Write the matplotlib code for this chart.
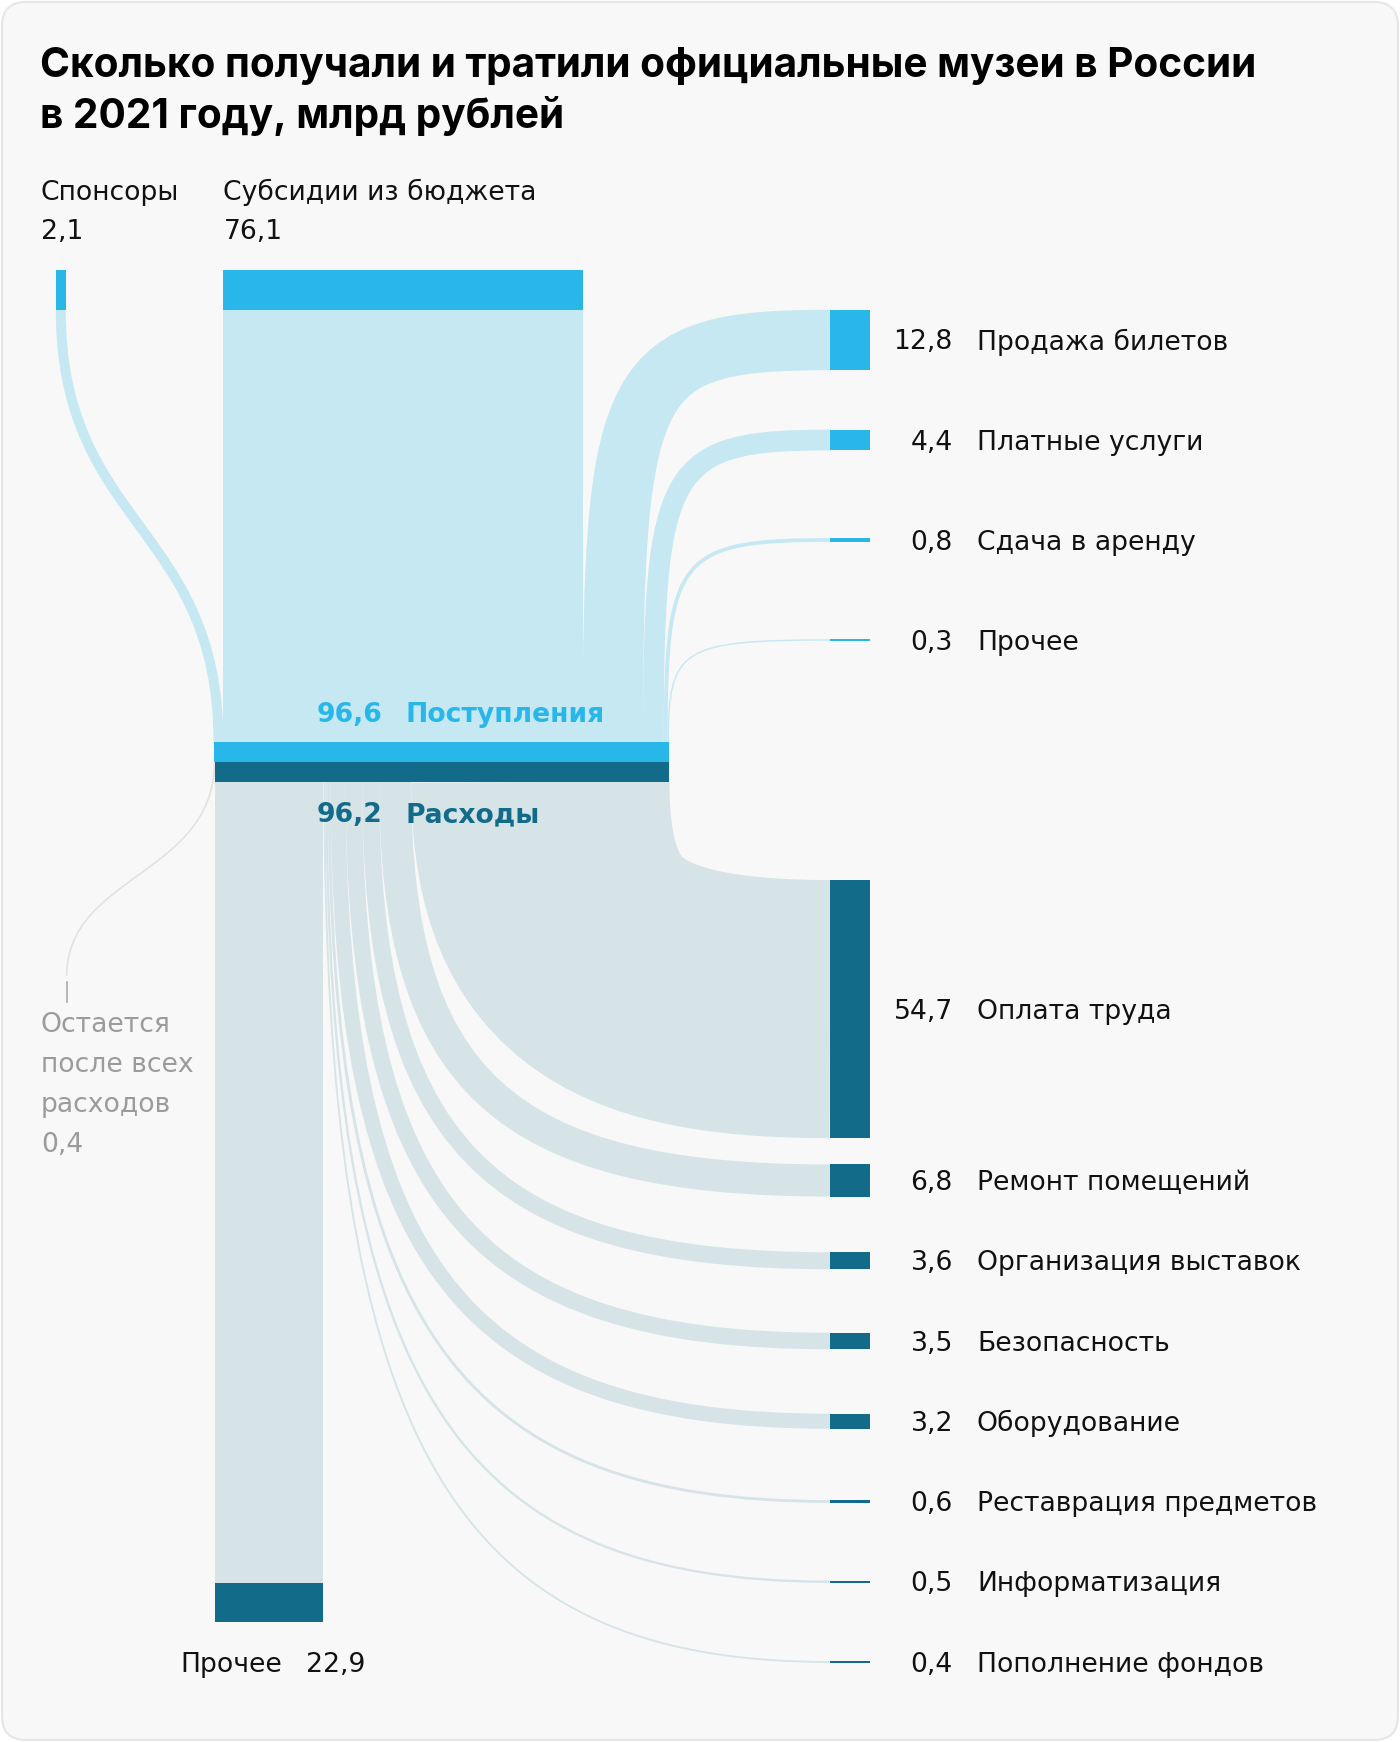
import matplotlib
matplotlib.use("Agg")
import matplotlib.pyplot as plt
from matplotlib.path import Path
from matplotlib.patches import PathPatch, Rectangle, FancyBboxPatch

# ---------------- data ----------------
title_lines = ["Сколько получали и тратили официальные музеи в России",
               "в 2021 году, млрд рублей"]
source_labels = ["Спонсоры", "Субсидии из бюджета"]
source_values = [2.1, 76.1]
own_labels = ["Продажа билетов", "Платные услуги", "Сдача в аренду", "Прочее"]
own_values = [12.8, 4.4, 0.8, 0.3]
income_total = 96.6
income_label = "Поступления"
expense_total = 96.2
expense_label = "Расходы"
other_expense_label = "Прочее"
other_expense_value = 22.9
expense_labels = ["Оплата труда", "Ремонт помещений", "Организация выставок",
                  "Безопасность", "Оборудование", "Реставрация предметов",
                  "Информатизация", "Пополнение фондов"]
expense_values = [54.7, 6.8, 3.6, 3.5, 3.2, 0.6, 0.5, 0.4]
leftover_label = ["Остается", "после всех", "расходов"]
leftover_value = 0.4

# ---------------- style / layout ----------------
W, H, DPI = 1400, 1742, 100
S = 4.72                      # px per bln rub
BAR_X0 = 213.5
IN_TOP, IN_BOT, EX_BOT = 742, 762, 782
SRC_TOP, SRC_BOT = 270, 310
NODE_X, NODE_W = 830, 40
C_IN_DARK = "#29b7e9"
C_IN_LIGHT = "#c5e8f3"
C_EX_DARK = "#136b8a"
C_EX_LIGHT = "#d6e4e8"
C_TEXT = "#111111"
C_GRAY = "#9b9b9b"
FONT = "DejaVu Sans"
FS = 19.2
TFONT = "Inter"


def fmt(v):
    return f"{v:.1f}".replace(".", ",")


fig = plt.figure(figsize=(W / DPI, H / DPI), dpi=DPI, facecolor="white")
ax = fig.add_axes([0, 0, 1, 1])
ax.set_xlim(0, W)
ax.set_ylim(H, 0)
ax.axis("off")

ax.add_patch(FancyBboxPatch((2, 2), W - 4, H - 4,
                            boxstyle="round,pad=0,rounding_size=24",
                            facecolor="#f8f8f8", edgecolor="#e6e6e6", lw=1.5))


def stroke(p0, p1, p2, p3, width, color, z=2):
    path = Path([p0, p1, p2, p3], [Path.MOVETO, Path.CURVE4, Path.CURVE4, Path.CURVE4])
    ax.add_patch(PathPatch(path, fill=False, edgecolor=color,
                           lw=max(width, 1.3) * 72 / DPI, capstyle="butt", zorder=z))


# ---------------- income side ----------------
x = BAR_X0
# sponsor
sp_w = source_values[0] * S
sp_x = 55.8
stroke((sp_x + sp_w / 2, SRC_BOT), (sp_x + sp_w / 2, (SRC_BOT + IN_TOP) / 2),
       (x + sp_w / 2, (SRC_BOT + IN_TOP) / 2), (x + sp_w / 2, IN_TOP), sp_w, C_IN_LIGHT)
ax.add_patch(Rectangle((sp_x, SRC_TOP), sp_w, SRC_BOT - SRC_TOP, color=C_IN_DARK, lw=0, zorder=4))
x += sp_w
# subsidies
sub_w = source_values[1] * S
ax.add_patch(Rectangle((x, SRC_BOT), sub_w, IN_TOP - SRC_BOT, color=C_IN_LIGHT, lw=0, zorder=2))
ax.add_patch(Rectangle((x, SRC_TOP), sub_w, SRC_BOT - SRC_TOP, color=C_IN_DARK, lw=0, zorder=4))
sub_x = x
x += sub_w

label_top = [(41, source_labels[0], source_values[0]), (sub_x, source_labels[1], source_values[1])]
for lx, lab, val in label_top:
    ax.text(lx, 200, lab, fontsize=FS, family=FONT, color=C_TEXT, va="baseline")
    ax.text(lx, 239, fmt(val), fontsize=FS, family=FONT, color=C_TEXT, va="baseline")

# own income flows from right nodes
k_top = 0.92
for i, (lab, val) in enumerate(zip(own_labels, own_values)):
    w = val * S
    yc = 340 + 100 * i
    xc = x + w / 2
    stroke((NODE_X, yc), (NODE_X - k_top * (NODE_X - xc), yc),
           (xc, IN_TOP - k_top * (IN_TOP - yc)), (xc, IN_TOP), w, C_IN_LIGHT)
    ax.add_patch(Rectangle((NODE_X, yc - w / 2), NODE_W, w, color=C_IN_DARK, lw=0, zorder=4))
    ax.text(953, yc + 9.5, fmt(val), fontsize=FS, family=FONT, color=C_TEXT, ha="right", va="baseline")
    ax.text(977, yc + 9.5, lab, fontsize=FS, family=FONT, color=C_TEXT, ha="left", va="baseline")
    x += w

# income bar
ax.add_patch(Rectangle((BAR_X0, IN_TOP), income_total * S, IN_BOT - IN_TOP, color=C_IN_DARK, lw=0, zorder=5))

# ---------------- expense side ----------------
ex_x0 = BAR_X0 + leftover_value * S
ax.add_patch(Rectangle((ex_x0, IN_BOT), expense_total * S, EX_BOT - IN_BOT, color=C_EX_DARK, lw=0, zorder=5))

# leftover line
lx0, lx1 = BAR_X0 + leftover_value * S / 2, 66.7
stroke((lx0, IN_BOT), (lx0, 875), (lx1, 875), (lx1, 976), 1.6, "#e1e1e1", z=1)
ax.plot([lx1, lx1], [982, 1002], color="#a8a8a8", lw=1.6 * 0.72, zorder=3)
for j, t in enumerate(leftover_label + [fmt(leftover_value)]):
    ax.text(41, 1032 + 40 * j, t, fontsize=FS, family=FONT, color=C_GRAY, va="baseline")

# other expenses (straight down)
x = ex_x0
ow = other_expense_value * S
PR_TOP = 1583
ax.add_patch(Rectangle((x, EX_BOT), ow, PR_TOP - EX_BOT, color=C_EX_LIGHT, lw=0, zorder=2))
ax.add_patch(Rectangle((x, PR_TOP), ow, 39, color=C_EX_DARK, lw=0, zorder=4))
ax.text(x + ow / 2 + 13, 1672, other_expense_label, fontsize=FS, family=FONT, color=C_TEXT,
        ha="right", va="baseline")
ax.text(x + ow / 2 + 37, 1672, fmt(other_expense_value), fontsize=FS, family=FONT, color=C_TEXT,
        ha="left", va="baseline")
x += ow

# expense node centres
centers = []
top0 = 880
centers.append(top0 + expense_values[0] * S / 2)
for i in range(1, len(expense_values)):
    centers.append(1180.5 + 80.25 * (i - 1))

# bar order: smallest first (left), largest last (right)
order = list(range(len(expense_values)))[::-1]
k_bot = 0.75
for idx in order:
    val = expense_values[idx]
    w = val * S
    xc = x + w / 2
    yc = centers[idx]
    stroke((xc, EX_BOT), (xc, EX_BOT + k_bot * (yc - EX_BOT)),
           (NODE_X - k_bot * (NODE_X - xc), yc), (NODE_X, yc), w, C_EX_LIGHT)
    ax.add_patch(Rectangle((NODE_X, yc - w / 2), NODE_W, w, color=C_EX_DARK, lw=0, zorder=4))
    ax.text(953, yc + 9.5, fmt(val), fontsize=FS, family=FONT, color=C_TEXT, ha="right", va="baseline")
    ax.text(977, yc + 9.5, expense_labels[idx], fontsize=FS, family=FONT, color=C_TEXT,
            ha="left", va="baseline")
    x += w

# centre labels
for yb, val, lab, col in [(722, income_total, income_label, C_IN_DARK),
                          (822, expense_total, expense_label, C_EX_DARK)]:
    ax.text(382, yb, fmt(val), fontsize=FS, family=FONT, weight="bold", color=col,
            ha="right", va="baseline", zorder=6)
    ax.text(405, yb, lab, fontsize=FS, family=FONT, weight="bold", color=col,
            ha="left", va="baseline", zorder=6)

# title
ax.text(40, 77, title_lines[0], fontsize=29.2, family=TFONT, weight="bold", color="#000000", va="baseline")
ax.text(40, 128, title_lines[1], fontsize=29.2, family=TFONT, weight="bold", color="#000000", va="baseline")

fig.savefig("out.png", dpi=DPI, facecolor="white")
